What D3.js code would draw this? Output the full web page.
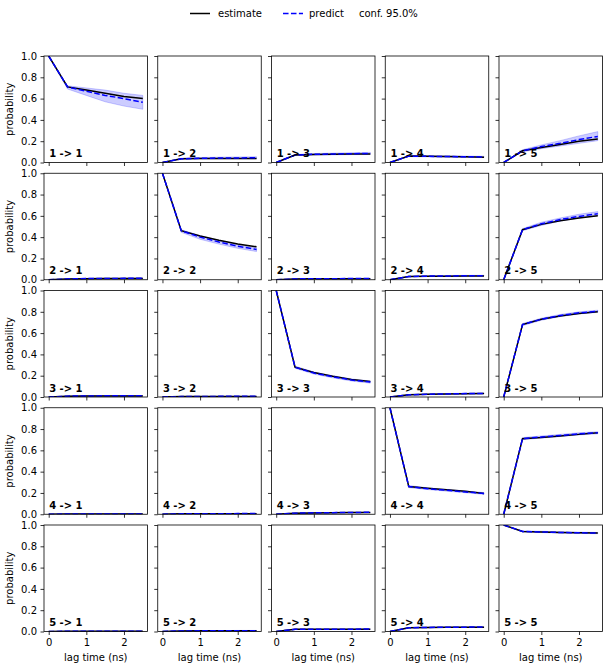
<!DOCTYPE html>
<html><head><meta charset="utf-8">
<script src="https://cdn.jsdelivr.net/npm/d3@7"></script>
<style>
html,body{margin:0;padding:0;background:#fff;}
svg{display:block;font-family:"DejaVu Sans",sans-serif;}
</style></head>
<body><svg id="chart" width="609" height="670"></svg>
<script>
const lagTimes = [0, 0.5, 1, 1.5, 2, 2.5];
const states = ["1","2","3","4","5"];
const xTicks = [0, 1, 2];
const yTicks = [0, 0.2, 0.4, 0.6, 0.8, 1.0];
const legendLabels = ["estimate", "predict", "conf. 95.0%"];

// panel order: row i (from), col j (to)
const estimate = [
  [1,0.71,0.68,0.65,0.62,0.60],
  [0,0.035,0.038,0.038,0.038,0.038],
  [0,0.07,0.075,0.078,0.08,0.08],
  [0,0.06,0.058,0.056,0.053,0.05],
  [0,0.11,0.14,0.17,0.20,0.22],

  [0,0.008,0.010,0.011,0.012,0.012],
  [1,0.46,0.41,0.37,0.335,0.31],
  [0,0.008,0.009,0.010,0.010,0.010],
  [0,0.030,0.033,0.034,0.035,0.035],
  [0,0.47,0.52,0.555,0.58,0.60],

  [0,0.008,0.009,0.009,0.010,0.010],
  [0,0.004,0.005,0.005,0.005,0.005],
  [1,0.28,0.23,0.195,0.165,0.145],
  [0,0.020,0.025,0.028,0.030,0.032],
  [0,0.68,0.73,0.76,0.785,0.80],

  [0,0.002,0.002,0.002,0.002,0.002],
  [0,0.004,0.004,0.005,0.005,0.005],
  [0,0.010,0.012,0.014,0.016,0.017],
  [1,0.26,0.245,0.23,0.215,0.195],
  [0,0.71,0.72,0.735,0.75,0.765],

  [0,0.002,0.002,0.002,0.002,0.002],
  [0,0.005,0.006,0.007,0.007,0.007],
  [0,0.020,0.020,0.021,0.021,0.021],
  [0,0.035,0.038,0.039,0.040,0.040],
  [1,0.94,0.935,0.93,0.928,0.925]
];

const predict = [
  [1,0.71,0.67,0.63,0.60,0.565],
  [0,0.035,0.040,0.042,0.043,0.044],
  [0,0.07,0.077,0.080,0.083,0.085],
  [0,0.06,0.058,0.056,0.054,0.052],
  [0,0.11,0.15,0.18,0.215,0.245],

  [0,0.008,0.011,0.012,0.013,0.014],
  [1,0.46,0.40,0.355,0.315,0.285],
  [0,0.008,0.009,0.010,0.011,0.011],
  [0,0.030,0.034,0.036,0.037,0.038],
  [0,0.47,0.525,0.565,0.595,0.62],

  [0,0.008,0.010,0.011,0.011,0.012],
  [0,0.004,0.005,0.006,0.006,0.006],
  [1,0.28,0.225,0.19,0.16,0.14],
  [0,0.020,0.026,0.029,0.032,0.034],
  [0,0.68,0.73,0.765,0.79,0.805],

  [0,0.002,0.002,0.003,0.003,0.003],
  [0,0.004,0.005,0.005,0.006,0.006],
  [0,0.010,0.013,0.015,0.017,0.018],
  [1,0.26,0.24,0.225,0.21,0.195],
  [0,0.71,0.725,0.74,0.755,0.765],

  [0,0.002,0.002,0.003,0.003,0.003],
  [0,0.005,0.006,0.007,0.008,0.008],
  [0,0.020,0.021,0.022,0.022,0.023],
  [0,0.035,0.038,0.040,0.041,0.042],
  [1,0.94,0.935,0.93,0.927,0.924]
];

const confLower = [
  [1,0.69,0.63,0.57,0.53,0.50],
  [0,0.030,0.033,0.034,0.035,0.035],
  [0,0.065,0.070,0.072,0.074,0.075],
  [0,0.055,0.053,0.050,0.048,0.046],
  [0,0.10,0.13,0.155,0.18,0.205],

  [0,0.006,0.008,0.009,0.010,0.010],
  [1,0.445,0.38,0.335,0.295,0.265],
  [0,0.006,0.007,0.008,0.008,0.008],
  [0,0.027,0.030,0.032,0.033,0.034],
  [0,0.46,0.51,0.55,0.58,0.60],

  [0,0.006,0.008,0.009,0.009,0.010],
  [0,0.003,0.004,0.004,0.004,0.004],
  [1,0.27,0.215,0.18,0.15,0.13],
  [0,0.018,0.023,0.026,0.028,0.030],
  [0,0.67,0.72,0.755,0.78,0.795],

  [0,0.001,0.001,0.002,0.002,0.002],
  [0,0.003,0.004,0.004,0.004,0.004],
  [0,0.008,0.011,0.013,0.015,0.016],
  [1,0.25,0.232,0.217,0.202,0.187],
  [0,0.70,0.715,0.73,0.745,0.755],

  [0,0.001,0.001,0.002,0.002,0.002],
  [0,0.004,0.005,0.006,0.006,0.006],
  [0,0.018,0.019,0.020,0.020,0.021],
  [0,0.032,0.035,0.037,0.038,0.039],
  [1,0.935,0.929,0.924,0.921,0.918]
];

const confUpper = [
  [1,0.72,0.70,0.68,0.65,0.63],
  [0,0.040,0.047,0.050,0.052,0.054],
  [0,0.075,0.084,0.088,0.092,0.095],
  [0,0.065,0.063,0.062,0.060,0.058],
  [0,0.12,0.165,0.205,0.25,0.29],

  [0,0.010,0.014,0.015,0.016,0.018],
  [1,0.47,0.415,0.37,0.33,0.30],
  [0,0.010,0.011,0.012,0.013,0.014],
  [0,0.033,0.038,0.040,0.041,0.042],
  [0,0.48,0.54,0.58,0.615,0.64],

  [0,0.010,0.012,0.013,0.013,0.014],
  [0,0.005,0.006,0.007,0.008,0.008],
  [1,0.29,0.235,0.20,0.17,0.15],
  [0,0.022,0.029,0.032,0.036,0.038],
  [0,0.69,0.74,0.775,0.80,0.815],

  [0,0.003,0.003,0.004,0.004,0.004],
  [0,0.005,0.006,0.007,0.008,0.008],
  [0,0.012,0.015,0.017,0.019,0.020],
  [1,0.27,0.248,0.233,0.218,0.203],
  [0,0.72,0.735,0.75,0.765,0.775],

  [0,0.003,0.003,0.004,0.004,0.004],
  [0,0.006,0.007,0.008,0.010,0.010],
  [0,0.022,0.023,0.024,0.024,0.025],
  [0,0.038,0.041,0.043,0.044,0.045],
  [1,0.945,0.941,0.936,0.933,0.930]
];

const svg = d3.select("#chart");
const colLeft = [44, 157.75, 271.5, 385.25, 499];
const rowTop = [56, 173.25, 290.5, 407.75, 525];
const W = 103.5, H = 106.5;
const font = "DejaVu Sans";

const x = d3.scaleLinear().domain([-0.125, 2.625]).range([0, W]);
const y = d3.scaleLinear().domain([0, 1]).range([H, 0]);

const lineGen = d3.line().x((d,i)=>x(lagTimes[i])).y(d=>y(d));

states.forEach((si, i) => {
  states.forEach((sj, j) => {
    const k = i*5 + j;
    const g = svg.append("g").attr("transform", `translate(${colLeft[j]},${rowTop[i]})`);
    const clipId = "clip"+k;
    g.append("clipPath").attr("id", clipId).append("rect").attr("width", W).attr("height", H);
    const plot = g.append("g").attr("clip-path", `url(#${clipId})`);

    const area = d3.area()
      .x((d,t)=>x(lagTimes[t]))
      .y0((d,t)=>y(confLower[k][t]))
      .y1((d,t)=>y(confUpper[k][t]));
    plot.append("path").datum(lagTimes).attr("d", area)
      .attr("fill", "#0000ff").attr("fill-opacity", 0.2)
      .attr("stroke", "#0000ff").attr("stroke-opacity", 0.2).attr("stroke-width", 1);

    plot.append("path").datum(estimate[k]).attr("d", lineGen)
      .attr("fill", "none").attr("stroke", "#000").attr("stroke-width", 1.5);
    plot.append("path").datum(predict[k]).attr("d", lineGen)
      .attr("fill", "none").attr("stroke", "#0000ff").attr("stroke-width", 1.5)
      .attr("stroke-dasharray", "5.55,2.4");

    // axes
    const ax = g.append("g").attr("transform", `translate(0,${H})`)
      .call(d3.axisBottom(x).tickValues(xTicks).tickSize(3.5).tickPadding(3.5)
        .tickFormat(i === 4 ? d3.format("d") : ""));
    const ay = g.append("g")
      .call(d3.axisLeft(y).tickValues(yTicks).tickSize(3.5).tickPadding(3.5)
        .tickFormat(j === 0 ? d3.format(".1f") : ""));
    [ax, ay].forEach(a => {
      a.select(".domain").remove();
      a.selectAll("line").attr("stroke", "#000").attr("stroke-width", 0.8);
      a.selectAll("text").attr("font-family", font).attr("font-size", 10).attr("fill", "#000");
    });

    g.append("rect").attr("width", W).attr("height", H)
      .attr("fill", "none").attr("stroke", "#000").attr("stroke-width", 0.8);

    g.append("text").attr("x", W*0.05).attr("y", H*0.95)
      .attr("font-family", font).attr("font-size", 10).attr("font-weight", "bold")
      .text(`${si} -> ${sj}`);

    if (j === 0) {
      g.append("text").attr("transform", `translate(${-31},${H/2}) rotate(-90)`)
        .attr("text-anchor", "middle").attr("font-family", font).attr("font-size", 10)
        .text("probability");
    }
    if (i === 4) {
      g.append("text").attr("x", W/2).attr("y", H + 29)
        .attr("text-anchor", "middle").attr("font-family", font).attr("font-size", 10)
        .text("lag time (ns)");
    }
  });
});

// legend
const lg = svg.append("g");
lg.append("line").attr("x1", 190).attr("x2", 210).attr("y1", 13.5).attr("y2", 13.5)
  .attr("stroke", "#000").attr("stroke-width", 1.5);
lg.append("text").attr("x", 218).attr("y", 17).attr("font-family", font).attr("font-size", 10).text(legendLabels[0]);
lg.append("line").attr("x1", 283).attr("x2", 303).attr("y1", 13.5).attr("y2", 13.5)
  .attr("stroke", "#0000ff").attr("stroke-width", 1.5).attr("stroke-dasharray", "5.55,2.4");
lg.append("text").attr("x", 309).attr("y", 17).attr("font-family", font).attr("font-size", 10).text(legendLabels[1]);
lg.append("text").attr("x", 359).attr("y", 17).attr("font-family", font).attr("font-size", 10).text(legendLabels[2]);
</script>
</body></html>
